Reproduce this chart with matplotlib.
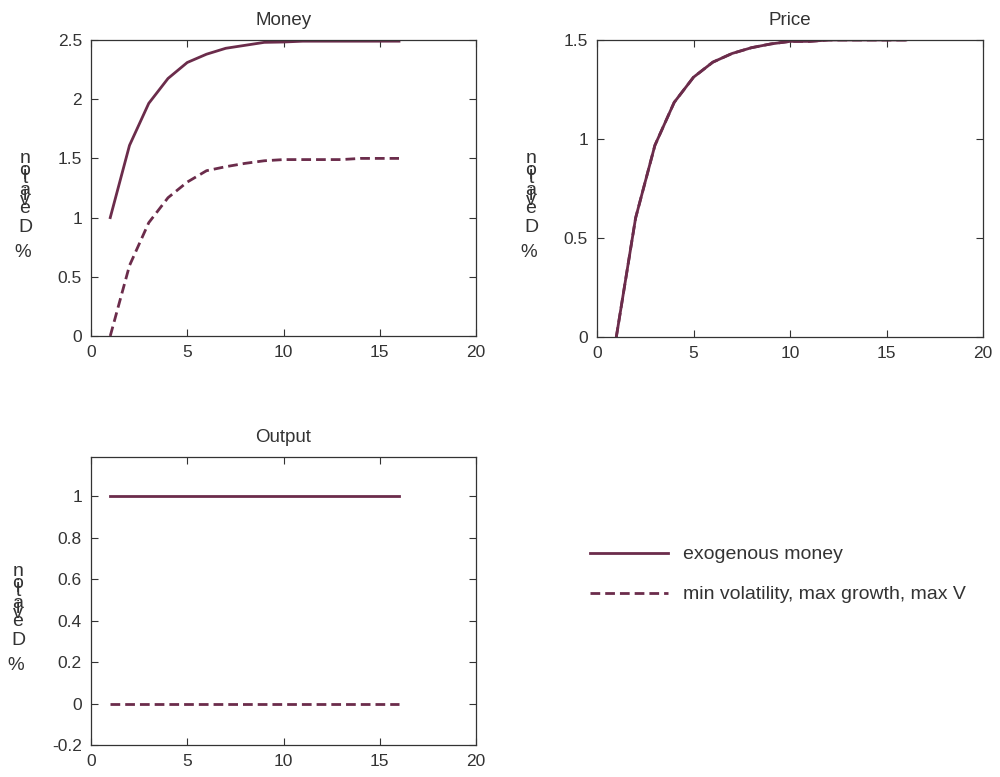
import matplotlib
matplotlib.use("Agg")
import matplotlib.pyplot as plt
from matplotlib.ticker import FormatStrFormatter

# ---- data ----
periods = list(range(1, 17))

money_exo = [1.0, 1.61, 1.965, 2.175, 2.31, 2.38, 2.43, 2.455, 2.48, 2.483,
             2.49, 2.49, 2.49, 2.49, 2.49, 2.49]
money_min = [0.0, 0.595, 0.957, 1.168, 1.30, 1.396, 1.43, 1.458, 1.48, 1.49,
             1.49, 1.49, 1.49, 1.5, 1.5, 1.5]

price_exo = [0.0, 0.601, 0.968, 1.185, 1.312, 1.388, 1.432, 1.461, 1.48, 1.493,
             1.493, 1.5, 1.5, 1.5, 1.5, 1.5]
price_min = price_exo

output_exo = [1.0] * 16
output_min = [0.0] * 16

labels = ["exogenous money", "min volatility, max growth, max V"]

# ---- style ----
W, H = 1000, 777
LINE = "#6b2c4b"
INK = "#333333"
LW = 2.0
DASH = (0, (3.5, 1.8))
plt.rcParams["font.family"] = ["Liberation Sans", "DejaVu Sans"]
plt.rcParams["text.color"] = INK
plt.rcParams["axes.edgecolor"] = INK
plt.rcParams["xtick.color"] = INK
plt.rcParams["ytick.color"] = INK

fig = plt.figure(figsize=(W / 100, H / 100), dpi=100)


def px_axes(l, t, r, b):
    return fig.add_axes([l / W, 1 - b / H, (r - l) / W, (b - t) / H])


def style(ax, title, ylim, yticks):
    ax.set_xlim(0, 20)
    ax.set_xticks([0, 5, 10, 15, 20])
    ax.set_ylim(*ylim)
    ax.set_yticks(yticks)
    ax.yaxis.set_major_formatter(FormatStrFormatter("%g"))
    ax.tick_params(direction="in", top=True, right=True, length=5,
                   width=0.8, labelsize=12.5, pad=6.5)
    for s in ax.spines.values():
        s.set_linewidth(0.9)
    ax.set_title(title, fontsize=13.5, pad=11, color=INK)


def stacked_label(x, base):
    # "% Deviation" rendered with upright letters piled on top of each other
    offs = [0, 19, 27, 32, 37, 49, 53, 57, 69]
    for ch, o in zip("Deviation", offs):
        fig.text(x / W, 1 - (base - o) / H, ch, ha="center", va="baseline",
                 fontsize=14)
    fig.text((x - 2) / W, 1 - (base + 25) / H, "%", ha="center",
             va="baseline", fontsize=13.5)


ax1 = px_axes(91, 40, 476, 336)
ax1.plot(periods, money_exo, color=LINE, lw=LW)
ax1.plot(periods, money_min, color=LINE, lw=LW, ls=DASH)
style(ax1, "Money", (0, 2.5), [0, 0.5, 1, 1.5, 2, 2.5])
stacked_label(25, 232)

ax2 = px_axes(597, 40, 983, 337)
ax2.plot(periods, price_exo, color=LINE, lw=LW)
ax2.plot(periods, price_min, color=LINE, lw=LW, ls=DASH)
style(ax2, "Price", (0, 1.5), [0, 0.5, 1, 1.5])
stacked_label(531, 232)

ax3 = px_axes(91, 457, 476, 745)
h1, = ax3.plot(periods, output_exo, color=LINE, lw=LW)
h2, = ax3.plot(periods, output_min, color=LINE, lw=LW, ls=DASH)
style(ax3, "Output", (-0.2, 1.19), [-0.2, 0, 0.2, 0.4, 0.6, 0.8, 1])
stacked_label(18, 645)

fig.legend([h1, h2], labels, loc="upper left",
           bbox_to_anchor=(582 / W, 1 - 538 / H), frameon=False,
           fontsize=14, handlelength=4.0, handletextpad=0.8,
           labelspacing=1.15, borderaxespad=0)

fig.savefig("out.png", dpi=100)
